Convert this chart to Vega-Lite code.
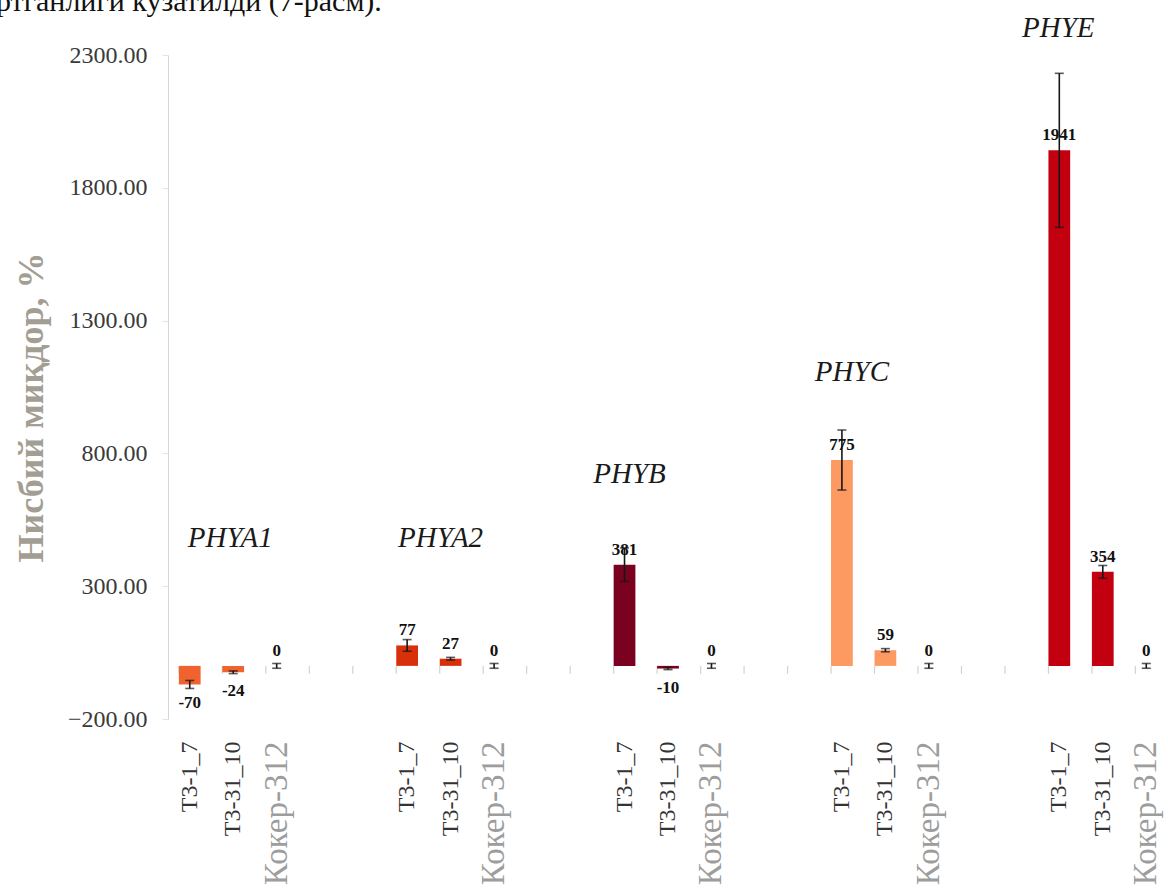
{
  "$schema": "https://vega.github.io/schema/vega-lite/v6.json",
  "autosize": {"type": "none"},
  "padding": {"left": 168, "top": 55, "right": 0, "bottom": 171},
  "width": 1000,
  "height": 664,
  "background": "white",
  "title": {
    "text": "ртганлиги кузатилди (7-расм).",
    "anchor": "start",
    "frame": "group",
    "orient": "top",
    "baseline": "alphabetic",
    "offset": -27,
    "dx": -172,
    "font": "Liberation Serif, Times New Roman, serif",
    "fontSize": 30,
    "fontWeight": "normal",
    "color": "#111111"
  },
  "datasets": {
    "expr": [
      {"gene": "PHYA1", "line": "Т3-1_7", "key": "PHYA1|Т3-1_7", "value": -70, "err": 15},
      {"gene": "PHYA1", "line": "Т3-31_10", "key": "PHYA1|Т3-31_10", "value": -24, "err": 5},
      {"gene": "PHYA1", "line": "Кокер-312", "key": "PHYA1|Кокер-312", "value": 0, "err": 9},
      {"gene": "PHYA2", "line": "Т3-1_7", "key": "PHYA2|Т3-1_7", "value": 77, "err": 22},
      {"gene": "PHYA2", "line": "Т3-31_10", "key": "PHYA2|Т3-31_10", "value": 27, "err": 5},
      {"gene": "PHYA2", "line": "Кокер-312", "key": "PHYA2|Кокер-312", "value": 0, "err": 9},
      {"gene": "PHYB", "line": "Т3-1_7", "key": "PHYB|Т3-1_7", "value": 381, "err": 63},
      {"gene": "PHYB", "line": "Т3-31_10", "key": "PHYB|Т3-31_10", "value": -10, "err": 4},
      {"gene": "PHYB", "line": "Кокер-312", "key": "PHYB|Кокер-312", "value": 0, "err": 9},
      {"gene": "PHYC", "line": "Т3-1_7", "key": "PHYC|Т3-1_7", "value": 775, "err": 113},
      {"gene": "PHYC", "line": "Т3-31_10", "key": "PHYC|Т3-31_10", "value": 59, "err": 6},
      {"gene": "PHYC", "line": "Кокер-312", "key": "PHYC|Кокер-312", "value": 0, "err": 9},
      {"gene": "PHYE", "line": "Т3-1_7", "key": "PHYE|Т3-1_7", "value": 1941, "err": 290},
      {"gene": "PHYE", "line": "Т3-31_10", "key": "PHYE|Т3-31_10", "value": 354, "err": 24},
      {"gene": "PHYE", "line": "Кокер-312", "key": "PHYE|Кокер-312", "value": 0, "err": 9}
    ],
    "slots": [
      {"key": "PHYA1|Т3-1_7"}, {"key": "PHYA1|Т3-31_10"}, {"key": "PHYA1|Кокер-312"}, {"key": "gap1"}, {"key": "gap2"},
      {"key": "PHYA2|Т3-1_7"}, {"key": "PHYA2|Т3-31_10"}, {"key": "PHYA2|Кокер-312"}, {"key": "gap3"}, {"key": "gap4"},
      {"key": "PHYB|Т3-1_7"}, {"key": "PHYB|Т3-31_10"}, {"key": "PHYB|Кокер-312"}, {"key": "gap5"}, {"key": "gap6"},
      {"key": "PHYC|Т3-1_7"}, {"key": "PHYC|Т3-31_10"}, {"key": "PHYC|Кокер-312"}, {"key": "gap7"}, {"key": "gap8"},
      {"key": "PHYE|Т3-1_7"}, {"key": "PHYE|Т3-31_10"}, {"key": "PHYE|Кокер-312"}
    ]
  },
  "data": {"name": "expr"},
  "encoding": {
    "x": {
      "field": "key",
      "type": "nominal",
      "sort": null,
      "scale": {
        "domain": [
          "PHYA1|Т3-1_7", "PHYA1|Т3-31_10", "PHYA1|Кокер-312", "gap1", "gap2",
          "PHYA2|Т3-1_7", "PHYA2|Т3-31_10", "PHYA2|Кокер-312", "gap3", "gap4",
          "PHYB|Т3-1_7", "PHYB|Т3-31_10", "PHYB|Кокер-312", "gap5", "gap6",
          "PHYC|Т3-1_7", "PHYC|Т3-31_10", "PHYC|Кокер-312", "gap7", "gap8",
          "PHYE|Т3-1_7", "PHYE|Т3-31_10", "PHYE|Кокер-312"
        ],
        "paddingInner": 0.5,
        "paddingOuter": 0.25
      },
      "axis": {
        "title": null,
        "labelExpr": "indexof(datum.value, '|') >= 0 ? split(datum.value, '|')[1] : ''",
        "labelAngle": -90,
        "labelAlign": "right",
        "labelBaseline": "middle",
        "labelPadding": 22,
        "labelFont": "Liberation Serif, Times New Roman, serif",
        "labelFontSize": {"condition": {"test": "indexof(datum.value, 'Кокер') >= 0", "value": 33}, "value": 24},
        "labelColor": {"condition": {"test": "indexof(datum.value, 'Кокер') >= 0", "value": "#9c9d9c"}, "value": "#333333"},
        "labelOverlap": false,
        "labelLimit": 300,
        "ticks": false,
        "domain": false,
        "grid": false
      }
    },
    "y": {
      "type": "quantitative",
      "scale": {"domain": [-200, 2300], "nice": false, "zero": false},
      "axis": {
        "values": [-200, 300, 800, 1300, 1800, 2300],
        "format": ".2f",
        "title": "Нисбий миқдор, %",
        "titleFont": "Liberation Serif, Times New Roman, serif",
        "titleFontSize": 36,
        "titleFontWeight": "bold",
        "titleColor": "#a39e93",
        "titleAngle": -90,
        "titleAlign": "center",
        "titleBaseline": "alphabetic",
        "titleX": -126,
        "titleY": 352,
        "labelFont": "Liberation Serif, Times New Roman, serif",
        "labelFontSize": 24,
        "labelColor": "#3a3a3a",
        "labelPadding": 15,
        "tickSize": 6,
        "tickColor": "#e3e3e3",
        "domainColor": "#d6d6d6",
        "gridColor": "#e8e8e8",
        "gridWidth": 1.5
      }
    }
  },
  "layer": [
    {
      "mark": {"type": "rule", "color": "#dcdcdc", "strokeWidth": 1.5},
      "encoding": {"y": {"datum": 0}}
    },
    {
      "data": {"name": "slots"},
      "mark": {"type": "rule", "color": "#d2d2d2", "strokeWidth": 1.2},
      "encoding": {
        "x": {"field": "key", "type": "nominal", "bandPosition": 0},
        "y": {"datum": 0},
        "y2": {"datum": -30}
      }
    },
    {
      "mark": {"type": "bar"},
      "encoding": {
        "y": {"field": "value", "type": "quantitative"},
        "y2": {"datum": 0},
        "color": {
          "field": "gene",
          "type": "nominal",
          "legend": null,
          "scale": {
            "domain": ["PHYA1", "PHYA2", "PHYB", "PHYC", "PHYE"],
            "range": ["#f0622e", "#d9300c", "#7a0120", "#fc9a62", "#c2000f"]
          }
        }
      }
    },
    {
      "mark": {
        "type": "errorbar",
        "color": "#161616",
        "ticks": {"size": 9, "thickness": 1.6, "color": "#161616"},
        "rule": {"strokeWidth": 1.6, "color": "#161616"}
      },
      "encoding": {
        "y": {"field": "value", "type": "quantitative"},
        "yError": {"field": "err"}
      }
    },
    {
      "transform": [{"filter": "datum.value >= 0"}],
      "mark": {"type": "text", "font": "Liberation Serif, Times New Roman, serif", "fontSize": 17, "fontWeight": "bold", "color": "#111111", "baseline": "alphabetic", "dy": -10},
      "encoding": {
        "y": {"field": "value", "type": "quantitative"},
        "text": {"field": "value", "type": "nominal"}
      }
    },
    {
      "transform": [{"filter": "datum.value < 0"}],
      "mark": {"type": "text", "font": "Liberation Serif, Times New Roman, serif", "fontSize": 17, "fontWeight": "bold", "color": "#111111", "baseline": "top", "dy": 11},
      "encoding": {
        "y": {"field": "value", "type": "quantitative"},
        "text": {"field": "value", "type": "nominal"}
      }
    },
    {
      "data": {"values": [{"gene": "PHYA1"}]},
      "mark": {"type": "text", "font": "Liberation Serif, Times New Roman, serif", "fontSize": 29, "fontStyle": "italic", "color": "#1a1a1a", "baseline": "middle", "dx": -3},
      "encoding": {"x": {"datum": "PHYA1|Т3-31_10"}, "y": {"datum": 480}, "text": {"field": "gene"}}
    },
    {
      "data": {"values": [{"gene": "PHYA2"}]},
      "mark": {"type": "text", "font": "Liberation Serif, Times New Roman, serif", "fontSize": 29, "fontStyle": "italic", "color": "#1a1a1a", "baseline": "middle", "dx": -10},
      "encoding": {"x": {"datum": "PHYA2|Т3-31_10"}, "y": {"datum": 480}, "text": {"field": "gene"}}
    },
    {
      "data": {"values": [{"gene": "PHYB"}]},
      "mark": {"type": "text", "font": "Liberation Serif, Times New Roman, serif", "fontSize": 29, "fontStyle": "italic", "color": "#1a1a1a", "baseline": "middle", "dx": 5},
      "encoding": {"x": {"datum": "PHYB|Т3-1_7"}, "y": {"datum": 722}, "text": {"field": "gene"}}
    },
    {
      "data": {"values": [{"gene": "PHYC"}]},
      "mark": {"type": "text", "font": "Liberation Serif, Times New Roman, serif", "fontSize": 29, "fontStyle": "italic", "color": "#1a1a1a", "baseline": "middle", "dx": 10},
      "encoding": {"x": {"datum": "PHYC|Т3-1_7"}, "y": {"datum": 1107}, "text": {"field": "gene"}}
    },
    {
      "data": {"values": [{"gene": "PHYE"}]},
      "mark": {"type": "text", "font": "Liberation Serif, Times New Roman, serif", "fontSize": 29, "fontStyle": "italic", "color": "#1a1a1a", "baseline": "middle", "dx": -1},
      "encoding": {"x": {"datum": "PHYE|Т3-1_7"}, "y": {"datum": 2402}, "text": {"field": "gene"}}
    }
  ],
  "config": {
    "view": {"stroke": null},
    "axis": {"labelFont": "Liberation Serif, Times New Roman, serif", "titleFont": "Liberation Serif, Times New Roman, serif"}
  }
}
